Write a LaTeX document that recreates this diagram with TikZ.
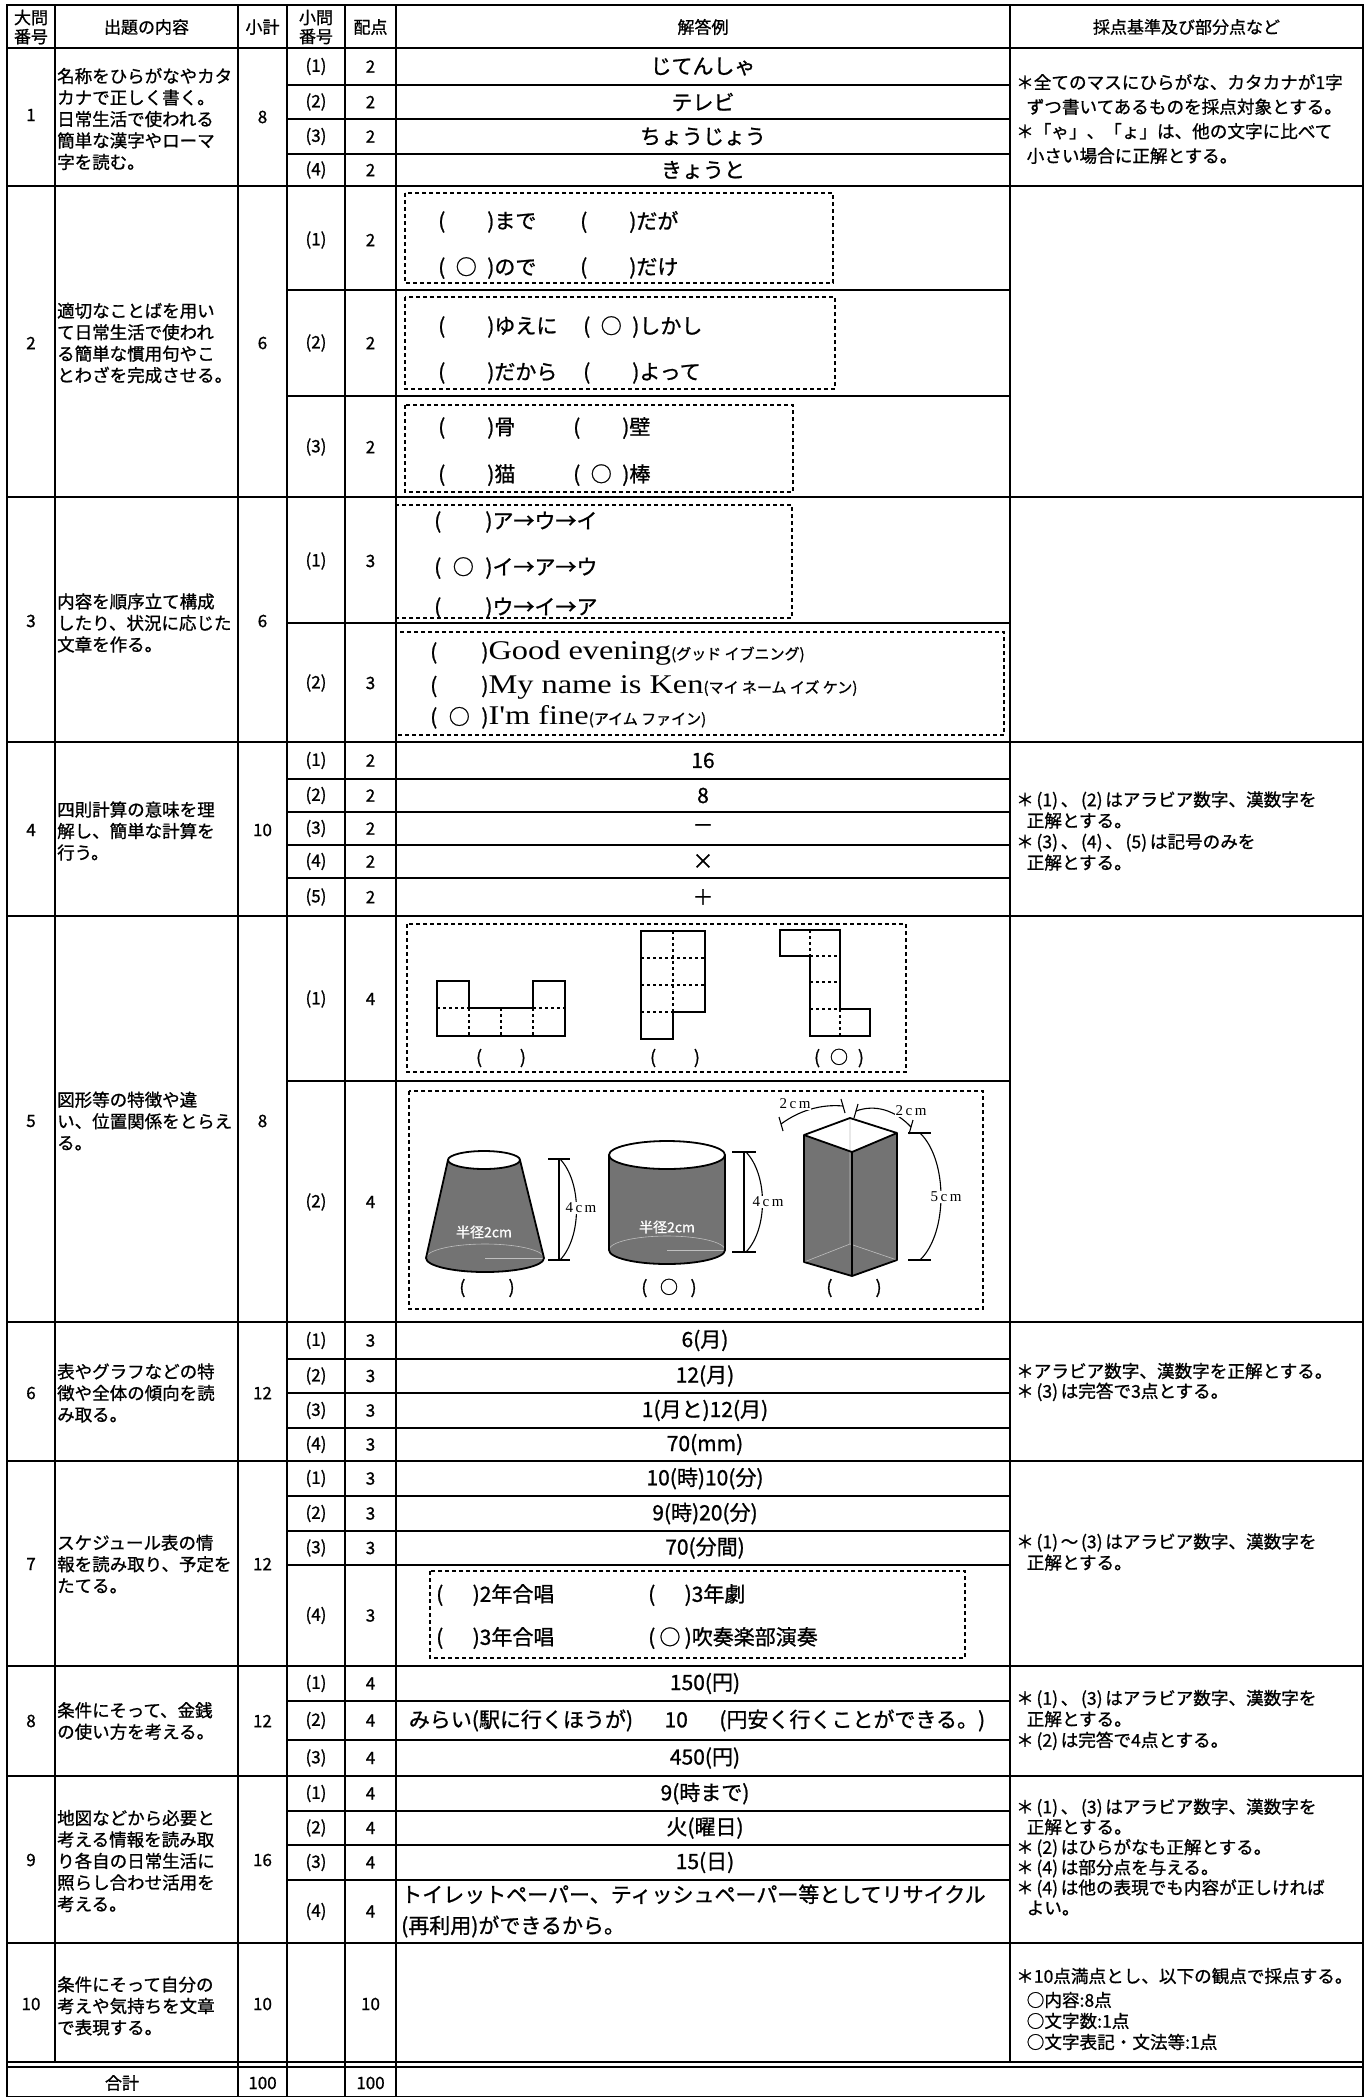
\documentclass[tikz,border=0pt]{standalone}
\usepackage{fontspec}
\setmainfont{Noto Sans CJK JP}[FakeBold=1.0]
\newfontfamily\latinserif{Liberation Serif}
\newfontfamily\widelatin{Liberation Serif}[FakeStretch=1.2]
\newcommand\sel[2][2em]{(\makebox[#1]{#2})}
\newcommand\pn[1]{\hspace{0.15em}(#1)\hspace{0.15em}}
\tikzset{
	frame/.style={line width=2.4pt},
	major/.style={line width=2.2pt},
	minor/.style={line width=1.1pt},
	vline/.style={line width=1.4pt},
	head/.style={inner sep=0pt, align=center, font=\fontsize{17}{19}\selectfont},
	cell/.style={inner sep=0pt, font=\fontsize{17}{20}\selectfont},
	content/.style={anchor=west, align=left, inner sep=0pt, font=\fontsize{17.5}{21.5}\selectfont},
	note/.style={anchor=west, align=left, inner sep=0pt, font=\fontsize{17.6}{21}\selectfont},
	answer/.style={inner sep=0pt, font=\fontsize{21}{25}\selectfont},
	choice/.style={anchor=west, inner sep=0pt, font=\fontsize{21}{25}\selectfont},
	dashbox/.style={line width=1.2pt, dash pattern=on 4pt off 3pt},
	net/.style={line width=2pt, line join=miter},
	fold/.style={line width=2pt, dash pattern=on 3pt off 3pt},
	tone/.style={fill=black!55},
	body/.style={line width=1.8pt, line join=round},
	hidden/.style={line width=0.6pt, black!25},
	dim/.style={line width=1.1pt},
	dimlabel/.style={inner sep=1pt, fill=white, font=\latinserif\fontsize{15}{17}\selectfont},
}
\begin{document}
\begin{tikzpicture}[x=1pt, y=-1pt]
	\useasboundingbox (0,0) rectangle (1369,2097);
	
	\pgfmathsetmacro\xL{7}
	\pgfmathsetmacro\xA{55}
	\pgfmathsetmacro\xB{238}
	\pgfmathsetmacro\xC{287}
	\pgfmathsetmacro\xD{345}
	\pgfmathsetmacro\xE{396}
	\pgfmathsetmacro\xF{1010}
	\pgfmathsetmacro\xR{1363}
	
	% grid
	\draw[frame] (\xL,5) rectangle (\xR,2097);
	\draw[major] (\xL,48) -- (\xR,48) (\xL,186) -- (\xR,186) (\xL,497) -- (\xR,497)
		(\xL,742) -- (\xR,742) (\xL,916) -- (\xR,916) (\xL,1322) -- (\xR,1322)
		(\xL,1461) -- (\xR,1461) (\xL,1666) -- (\xR,1666) (\xL,1776) -- (\xR,1776)
		(\xL,1943) -- (\xR,1943);
	\draw[minor] (\xL,2062) -- (\xR,2062) (\xL,2067) -- (\xR,2067);
	\draw[vline] (\xA,5) -- (\xA,2062) (\xB,5) -- (\xB,2097) (\xC,5) -- (\xC,2097)
		(\xD,5) -- (\xD,2097) (\xE,5) -- (\xE,2097) (\xF,5) -- (\xF,2062);
	\draw[minor] (\xC,85) -- (\xF,85) (\xC,119) -- (\xF,119) (\xC,154) -- (\xF,154)
		(\xC,290) -- (\xF,290) (\xC,396) -- (\xF,396)
		(\xC,623) -- (\xF,623)
		(\xC,779) -- (\xF,779) (\xC,812) -- (\xF,812) (\xC,845) -- (\xF,845) (\xC,878) -- (\xF,878)
		(\xC,1081) -- (\xF,1081)
		(\xC,1359) -- (\xF,1359) (\xC,1393) -- (\xF,1393) (\xC,1428) -- (\xF,1428)
		(\xC,1496) -- (\xF,1496) (\xC,1531) -- (\xF,1531) (\xC,1565) -- (\xF,1565)
		(\xC,1701) -- (\xF,1701) (\xC,1740) -- (\xF,1740)
		(\xC,1811) -- (\xF,1811) (\xC,1845) -- (\xF,1845) (\xC,1880) -- (\xF,1880);
	
	% header
	\node[head] (h1) at (31,27) {大問\\番号};
	\node[head] (h2) at (146.5,27) {出題の内容};
	\node[head] (h3) at (262.5,27) {小計};
	\node[head] (h4) at (316,27) {小問\\番号};
	\node[head] (h5) at (370.5,27) {配点};
	\node[head] (h6) at (703,27) {解答例};
	\node[head] (h7) at (1186.5,27) {採点基準及び部分点など};
	
	% question numbers and subtotals
	\node[cell] (n1) at (31,115) {1};   \node[cell] (t1) at (262.5,117) {8};
	\node[cell] (n2) at (31,343) {2};   \node[cell] (t2) at (262.5,343) {6};
	\node[cell] (n3) at (31,621) {3};   \node[cell] (t3) at (262.5,621) {6};
	\node[cell] (n4) at (31,830) {4};   \node[cell] (t4) at (262.5,830) {10};
	\node[cell] (n5) at (31,1121) {5};  \node[cell] (t5) at (262.5,1121) {8};
	\node[cell] (n6) at (31,1393) {6};  \node[cell] (t6) at (262.5,1393) {12};
	\node[cell] (n7) at (31,1564) {7};  \node[cell] (t7) at (262.5,1564) {12};
	\node[cell] (n8) at (31,1721) {8};  \node[cell] (t8) at (262.5,1721) {12};
	\node[cell] (n9) at (31,1860) {9};  \node[cell] (t9) at (262.5,1860) {16};
	\node[cell] (n10) at (31,2004) {10}; \node[cell] (t10) at (262.5,2004) {10};
	
	% contents
	\node[content] (c1) at (57,119) {名称をひらがなやカタ\\カナで正しく書く。\\日常生活で使われる\\簡単な漢字やローマ\\字を読む。};
	\node[content] (c2) at (57,343) {適切なことばを用い\\て日常生活で使われ\\る簡単な慣用句やこ\\とわざを完成させる。};
	\node[content] (c3) at (57,623) {内容を順序立て構成\\したり、状況に応じた\\文章を作る。};
	\node[content] (c4) at (57,831) {四則計算の意味を理\\解し、簡単な計算を\\行う。};
	\node[content] (c5) at (57,1121) {図形等の特徴や違\\い、位置関係をとらえ\\る。};
	\node[content] (c6) at (57,1393) {表やグラフなどの特\\徴や全体の傾向を読\\み取る。};
	\node[content] (c7) at (57,1564) {スケジュール表の情\\報を読み取り、予定を\\たてる。};
	\node[content] (c8) at (57,1721) {条件にそって、金銭\\の使い方を考える。};
	\node[content] (c9) at (57,1861) {地図などから必要と\\考える情報を読み取\\り各自の日常生活に\\照らし合わせ活用を\\考える。};
	\node[content] (c10) at (57,2006) {条件にそって自分の\\考えや気持ちを文章\\で表現する。};
	
	% sub numbers and points
	\node[cell] (s1a) at (316,66.5) {(1)};  \node[cell] (p1a) at (370.5,66.5) {2};
	\node[cell] (s1b) at (316,102) {(2)};   \node[cell] (p1b) at (370.5,102) {2};
	\node[cell] (s1c) at (316,136.5) {(3)}; \node[cell] (p1c) at (370.5,136.5) {2};
	\node[cell] (s1d) at (316,170) {(4)};   \node[cell] (p1d) at (370.5,170) {2};
	\node[cell] (s2a) at (316,240) {(1)};   \node[cell] (p2a) at (370.5,240) {2};
	\node[cell] (s2b) at (316,343) {(2)};   \node[cell] (p2b) at (370.5,343) {2};
	\node[cell] (s2c) at (316,447) {(3)};   \node[cell] (p2c) at (370.5,447) {2};
	\node[cell] (s3a) at (316,561) {(1)};   \node[cell] (p3a) at (370.5,561) {3};
	\node[cell] (s3b) at (316,683) {(2)};   \node[cell] (p3b) at (370.5,683) {3};
	\node[cell] (s4a) at (316,760.5) {(1)}; \node[cell] (p4a) at (370.5,760.5) {2};
	\node[cell] (s4b) at (316,795.5) {(2)}; \node[cell] (p4b) at (370.5,795.5) {2};
	\node[cell] (s4c) at (316,828.5) {(3)}; \node[cell] (p4c) at (370.5,828.5) {2};
	\node[cell] (s4d) at (316,861.5) {(4)}; \node[cell] (p4d) at (370.5,861.5) {2};
	\node[cell] (s4e) at (316,897) {(5)};   \node[cell] (p4e) at (370.5,897) {2};
	\node[cell] (s5a) at (316,999) {(1)};   \node[cell] (p5a) at (370.5,999) {4};
	\node[cell] (s5b) at (316,1202) {(2)};  \node[cell] (p5b) at (370.5,1202) {4};
	\node[cell] (s6a) at (316,1340.5) {(1)}; \node[cell] (p6a) at (370.5,1340.5) {3};
	\node[cell] (s6b) at (316,1376) {(2)};   \node[cell] (p6b) at (370.5,1376) {3};
	\node[cell] (s6c) at (316,1410.5) {(3)}; \node[cell] (p6c) at (370.5,1410.5) {3};
	\node[cell] (s6d) at (316,1444.5) {(4)}; \node[cell] (p6d) at (370.5,1444.5) {3};
	\node[cell] (s7a) at (316,1478.5) {(1)}; \node[cell] (p7a) at (370.5,1478.5) {3};
	\node[cell] (s7b) at (316,1513.5) {(2)}; \node[cell] (p7b) at (370.5,1513.5) {3};
	\node[cell] (s7c) at (316,1548) {(3)};   \node[cell] (p7c) at (370.5,1548) {3};
	\node[cell] (s7d) at (316,1615.5) {(4)}; \node[cell] (p7d) at (370.5,1615.5) {3};
	\node[cell] (s8a) at (316,1683.5) {(1)}; \node[cell] (p8a) at (370.5,1683.5) {4};
	\node[cell] (s8b) at (316,1720.5) {(2)}; \node[cell] (p8b) at (370.5,1720.5) {4};
	\node[cell] (s8c) at (316,1758) {(3)};   \node[cell] (p8c) at (370.5,1758) {4};
	\node[cell] (s9a) at (316,1793.5) {(1)}; \node[cell] (p9a) at (370.5,1793.5) {4};
	\node[cell] (s9b) at (316,1828) {(2)};   \node[cell] (p9b) at (370.5,1828) {4};
	\node[cell] (s9c) at (316,1862.5) {(3)}; \node[cell] (p9c) at (370.5,1862.5) {4};
	\node[cell] (s9d) at (316,1911.5) {(4)}; \node[cell] (p9d) at (370.5,1911.5) {4};
	\node[cell] (p10) at (370.5,2004) {10};
	
	% total
	\node[cell] (sum) at (122,2083) {合計};
	\node[cell] (sumt) at (262.5,2083) {100};
	\node[cell] (sump) at (370.5,2083) {100};
	
	% answers
	\node[answer] (a1a) at (703,66.5) {じてんしゃ};
	\node[answer] (a1b) at (703,102) {テレビ};
	\node[answer] (a1c) at (703,136.5) {ちょうじょう};
	\node[answer] (a1d) at (703,170) {きょうと};
	
	\draw[dashbox] (405,193) rectangle (833,283);
	\node[choice] (q2a) at (438,222) {\sel{}まで};
	\node[choice] (q2b) at (580,222) {\sel{}だが};
	\node[choice] (q2c) at (438,268) {\sel{○}ので};
	\node[choice] (q2d) at (580,268) {\sel{}だけ};
	\draw[dashbox] (405,297) rectangle (835,389);
	\node[choice] (q2e) at (438,327) {\sel{}ゆえに};
	\node[choice] (q2f) at (583,327) {\sel{○}しかし};
	\node[choice] (q2g) at (438,373) {\sel{}だから};
	\node[choice] (q2h) at (583,373) {\sel{}よって};
	\draw[dashbox] (405,405) rectangle (793,492);
	\node[choice] (q2i) at (438,428) {\sel{}骨};
	\node[choice] (q2j) at (573,428) {\sel{}壁};
	\node[choice] (q2k) at (438,475) {\sel{}猫};
	\node[choice] (q2l) at (573,475) {\sel{○}棒};
	
	\draw[dashbox] (396,505) rectangle (792,618);
	\node[choice] (q3a) at (434,522) {\sel[2.1em]{}ア→ウ→イ};
	\node[choice] (q3b) at (434,568) {\sel[2.1em]{○}イ→ア→ウ};
	\node[choice] (q3c) at (434,608) {\sel[2.1em]{}ウ→イ→ア};
	\draw[dashbox] (396,632) rectangle (1004,735);
	\node[choice] (q3d) at (430,653) {\sel[2.1em]{}{\widelatin\fontsize{27}{30}\selectfont Good evening}{\fontsize{15}{18}\selectfont (グッド イブニング)}};
	\node[choice] (q3e) at (430,687) {\sel[2.1em]{}{\widelatin\fontsize{27}{30}\selectfont My name is Ken}{\fontsize{15}{18}\selectfont (マイ ネーム イズ ケン)}};
	\node[choice] (q3f) at (430,717) {\sel[2.1em]{○}{\widelatin\fontsize{27}{30}\selectfont I'm fine}{\fontsize{15}{18}\selectfont (アイム ファイン)}};
	
	\node[answer] (a4a) at (703,760.5) {16};
	\node[answer] (a4b) at (703,795.5) {8};
	\node[answer] (a4c) at (703,828.5) {－};
	\node[answer] (a4d) at (703,861.5) {×};
	\node[answer] (a4e) at (703,897) {＋};
	
	% nets
	\draw[dashbox] (407,924) rectangle (906,1072);
	\draw[net] (437,981) -- (469,981) -- (469,1008) -- (533,1008) -- (533,981) -- (565,981) -- (565,1036) -- (437,1036) -- cycle;
	\draw[fold] (437,1008) -- (469,1008) (533,1008) -- (565,1008) (469,1008) -- (469,1036) (501,1008) -- (501,1036) (533,1008) -- (533,1036);
	\draw[net] (641,931) -- (705,931) -- (705,1012) -- (673,1012) -- (673,1039) -- (641,1039) -- cycle;
	\draw[fold] (673,931) -- (673,1012) (641,958) -- (705,958) (641,985) -- (705,985) (641,1012) -- (673,1012);
	\draw[net] (780,930) -- (840,930) -- (840,1009) -- (870,1009) -- (870,1036) -- (810,1036) -- (810,956) -- (780,956) -- cycle;
	\draw[fold] (810,930) -- (810,956) (810,956) -- (840,956) (810,982) -- (840,982) (810,1009) -- (840,1009) (840,1009) -- (840,1036);
	\node[cell, font=\fontsize{18}{20}\selectfont] (m1) at (501,1058) {\sel[2.1em]{}};
	\node[cell, font=\fontsize{18}{20}\selectfont] (m2) at (675,1058) {\sel[2.1em]{}};
	\node[cell, font=\fontsize{18}{20}\selectfont] (m3) at (839,1058) {\sel[2.1em]{○}};
	
	% solids
	\draw[dashbox] (409,1091) rectangle (983,1309);
	\fill[tone] (448,1160) -- (426,1258) arc[start angle=180, end angle=0, x radius=59, y radius=14] -- (520,1160) -- cycle;
	\draw[hidden] (544,1258) arc[start angle=0, end angle=-180, x radius=59, y radius=14];
	\draw[hidden] (485,1258) -- (544,1258);
	\draw[body] (448,1160) -- (426,1258) arc[start angle=180, end angle=0, x radius=59, y radius=14] -- (520,1160);
	\draw[body, fill=white] (484,1160) ellipse[x radius=36, y radius=9];
	\node[cell, white, font=\fontsize{14}{16}\selectfont] (r1) at (484,1232) {半径2cm};
	
	\fill[tone] (609,1155) -- (609,1250) arc[start angle=180, end angle=0, x radius=58, y radius=14] -- (725,1155) -- cycle;
	\draw[hidden] (725,1250) arc[start angle=0, end angle=-180, x radius=58, y radius=14];
	\draw[hidden] (667,1250) -- (725,1250);
	\draw[body] (609,1155) -- (609,1250) arc[start angle=180, end angle=0, x radius=58, y radius=14] -- (725,1155);
	\draw[body, fill=white] (667,1155) ellipse[x radius=58, y radius=14];
	\node[cell, white, font=\fontsize{14}{16}\selectfont] (r2) at (667,1227) {半径2cm};
	
	\fill[tone] (804,1135) -- (852,1152) -- (852,1276) -- (804,1262) -- cycle;
	\fill[tone] (852,1152) -- (897,1133) -- (897,1260) -- (852,1276) -- cycle;
	\draw[hidden] (850,1118) -- (850,1244) (804,1262) -- (850,1244) -- (897,1260);
	\draw[body] (804,1135) -- (850,1118) -- (897,1133) -- (852,1152) -- cycle
		(804,1135) -- (804,1262) -- (852,1276) -- (897,1260) -- (897,1133) (852,1152) -- (852,1276);
	
	% dimensions
	\draw[dim] (548,1159) -- (570,1159) (548,1260) -- (570,1260) (559,1159) -- (559,1260);
	\draw[dim] (560,1159) .. controls (582,1182) and (582,1237) .. (560,1260);
	\node[dimlabel] (d1) at (581,1208) {4\,c\,m};
	\draw[dim] (732,1152) -- (756,1152) (732,1252) -- (756,1252) (744,1152) -- (744,1252);
	\draw[dim] (746,1152) .. controls (768,1175) and (768,1229) .. (746,1252);
	\node[dimlabel] (d2) at (768,1202) {4\,c\,m};
	\draw[dim] (908,1133) -- (931,1133) (908,1260) -- (931,1260);
	\draw[dim] (920,1133) .. controls (948,1160) and (948,1233) .. (920,1260);
	\node[dimlabel] (d3) at (946,1197) {5\,c\,m};
	\draw[dim] (781,1124) .. controls (800,1110) and (822,1104) .. (843,1106);
	\draw[dim] (779,1117) -- (783,1131) (841,1099) -- (845,1113);
	\node[dimlabel] (d4) at (795,1104) {2\,c\,m};
	\draw[dim] (856,1111) .. controls (875,1104) and (895,1110) .. (911,1127);
	\draw[dim] (858,1104) -- (854,1118) (913,1120) -- (909,1134);
	\node[dimlabel] (d5) at (911,1111) {2\,c\,m};
	\node[cell, font=\fontsize{18}{20}\selectfont] (k1) at (487,1288) {\sel[2.4em]{}};
	\node[cell, font=\fontsize{18}{20}\selectfont] (k2) at (669,1288) {\sel[2.4em]{○}};
	\node[cell, font=\fontsize{18}{20}\selectfont] (k3) at (854,1288) {\sel[2.4em]{}};
	
	\node[answer] (a6a) at (705,1340.5) {6(月)};
	\node[answer] (a6b) at (705,1376) {12(月)};
	\node[answer] (a6c) at (705,1410.5) {1(月と)12(月)};
	\node[answer] (a6d) at (705,1444.5) {70(mm)};
	
	\node[answer] (a7a) at (705,1478.5) {10(時)10(分)};
	\node[answer] (a7b) at (705,1513.5) {9(時)20(分)};
	\node[answer] (a7c) at (705,1548) {70(分間)};
	\draw[dashbox] (430,1571) rectangle (965,1658);
	\node[choice] (q7a) at (436,1595) {\sel[1.4em]{}2年合唱};
	\node[choice] (q7b) at (648,1595) {\sel[1.4em]{}3年劇};
	\node[choice] (q7c) at (436,1638) {\sel[1.4em]{}3年合唱};
	\node[choice] (q7d) at (648,1638) {\sel[1.4em]{○}吹奏楽部演奏};
	
	\node[answer] (a8a) at (705,1683.5) {150(円)};
	\node[answer] (a8b) at (697,1720.5) {みらい(駅に行くほうが)\hspace{1.5em}10\hspace{1.5em}(円安く行くことができる。)};
	\node[answer] (a8c) at (705,1758) {450(円)};
	
	\node[answer] (a9a) at (705,1793.5) {9(時まで)};
	\node[answer] (a9b) at (705,1828) {火(曜日)};
	\node[answer] (a9c) at (705,1862.5) {15(日)};
	\node[answer, anchor=west, align=left, font=\fontsize{21}{31}\selectfont] (a9d) at (401,1911) {トイレットペーパー、ティッシュペーパー等としてリサイクル\\(再利用)ができるから。};
	
	% notes
	\node[note, font=\fontsize{17.6}{24.5}\selectfont] (g1) at (1016,119) {＊全てのマスにひらがな、カタカナが1字\\\hspace*{0.6em}ずつ書いてあるものを採点対象とする。\\＊「ゃ」、「ょ」は、他の文字に比べて\\\hspace*{0.6em}小さい場合に正解とする。};
	\node[note] (g4) at (1016,831) {＊\pn{1}、\pn{2}はアラビア数字、漢数字を\\\hspace*{0.6em}正解とする。\\＊\pn{3}、\pn{4}、\pn{5}は記号のみを\\\hspace*{0.6em}正解とする。};
	\node[note, font=\fontsize{17.6}{20}\selectfont] (g6) at (1016,1382) {＊アラビア数字、漢数字を正解とする。\\＊\pn{3}は完答で3点とする。};
	\node[note] (g7) at (1016,1552) {＊\pn{1}～\pn{3}はアラビア数字、漢数字を\\\hspace*{0.6em}正解とする。};
	\node[note] (g8) at (1016,1720) {＊\pn{1}、\pn{3}はアラビア数字、漢数字を\\\hspace*{0.6em}正解とする。\\＊\pn{2}は完答で4点とする。};
	\node[note, font=\fontsize{17.6}{20.2}\selectfont] (g9) at (1016,1857) {＊\pn{1}、\pn{3}はアラビア数字、漢数字を\\\hspace*{0.6em}正解とする。\\＊\pn{2}はひらがなも正解とする。\\＊\pn{4}は部分点を与える。\\＊\pn{4}は他の表現でも内容が正しければ\\\hspace*{0.6em}よい。};
	\node[note] (g10) at (1016,2009) {＊10点満点とし、以下の観点で採点する。\\[3pt]\hspace*{0.6em}○内容:8点\\\hspace*{0.6em}○文字数:1点\\\hspace*{0.6em}○文字表記・文法等:1点};
\end{tikzpicture}
\end{document}
